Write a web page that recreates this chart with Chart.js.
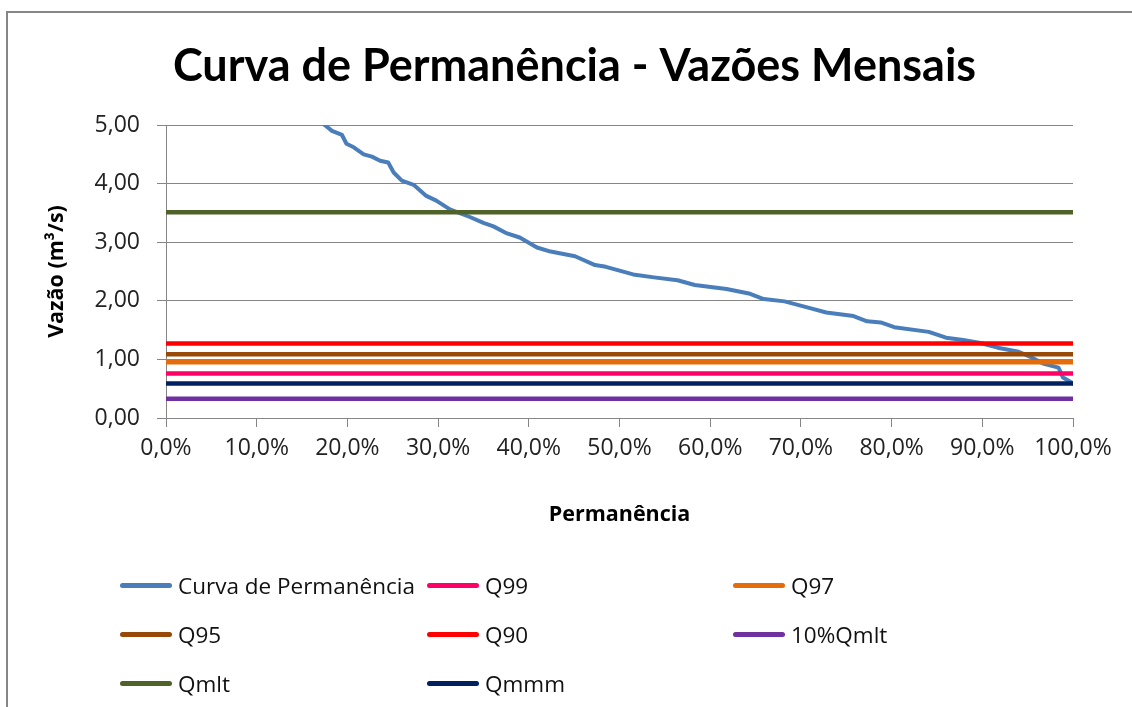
<!DOCTYPE html>
<html>
<head>
<meta charset="utf-8">
<script src="https://cdn.jsdelivr.net/npm/chart.js@4/dist/chart.umd.min.js"></script>
<style>
  body { margin: 0; background: #fff; overflow: hidden; width: 1132px; height: 707px; position: relative; }
  #frame { position: absolute; left: 6px; top: 11px; width: 1200px; height: 800px;
           border-left: 2px solid #868686; border-top: 2px solid #868686; }
  #grafico { position: absolute; left: 0; top: 0; }
  #legenda { position: absolute; left: 120px; top: 561px; display: grid;
             grid-template-columns: 307px 306px 300px; grid-auto-rows: 49px;
             font-family: "Open Sans", sans-serif; font-size: 22.5px; color: #111; }
  #legenda .item { display: flex; align-items: center; white-space: nowrap; }
  #legenda .linha { display: inline-block; width: 52px; height: 5px; border-radius: 3px; margin-right: 6px; }
</style>
</head>
<body>
<div id="frame"></div>
<canvas id="grafico" width="1149" height="707"></canvas>
<div id="legenda"></div>
<script>
// curva de permanencia (x em %, vazao em m3/s) - os primeiros pontos ficam acima de 5,00
const permanencia = [0, 5, 10, 15, 17.5, 18.3, 19.4, 19.9, 20.7, 21.8, 22.7, 23.6, 24.5, 25.1, 26.0, 27.3,
  28.7, 29.8, 31.3, 33.5, 35.0, 36.1, 37.6, 39.0, 40.9, 42.4, 45.1, 47.3, 48.5, 51.5, 53.8, 56.4, 58.3,
  61.8, 64.4, 65.9, 68.2, 70.9, 72.8, 75.8, 77.3, 78.8, 80.3, 84.1, 86.0, 87.9, 89.8, 91.7, 94.0, 95.5,
  96.7, 98.4, 98.9, 100];
const vazao = [12.0, 8.0, 6.4, 5.4, 5.00, 4.90, 4.83, 4.68, 4.62, 4.50, 4.46, 4.39, 4.36, 4.19, 4.05, 3.98,
  3.79, 3.71, 3.56, 3.43, 3.33, 3.27, 3.15, 3.08, 2.91, 2.84, 2.76, 2.61, 2.58, 2.45, 2.40, 2.35, 2.27,
  2.20, 2.12, 2.03, 1.99, 1.88, 1.80, 1.74, 1.65, 1.63, 1.55, 1.47, 1.37, 1.33, 1.28, 1.20, 1.13, 1.03,
  0.93, 0.86, 0.69, 0.59];

// vazoes de referencia
const referencias = ['Q99', 'Q97', 'Q95', 'Q90', '10%Qmlt', 'Qmlt', 'Qmmm'];
const valoresReferencia = [0.76, 0.95, 1.09, 1.27, 0.33, 3.51, 0.59];
const limitesX = [0, 100];

const cores = {
  'Curva de Permanência': '#4a7ebb',
  'Q99': '#ff0066',
  'Q97': '#e46c0a',
  'Q95': '#984807',
  'Q90': '#ff0000',
  '10%Qmlt': '#7030a0',
  'Qmlt': '#4f6228',
  'Qmmm': '#002060'
};

let datasets = [];
datasets.push({
  label: 'Curva de Permanência',
  data: permanencia.map((p, i) => ({ x: p, y: vazao[i] })),
  borderColor: cores['Curva de Permanência'],
  borderWidth: 4,
  order: 1
});
referencias.forEach((nome, i) => {
  datasets.push({
    label: nome,
    data: limitesX.map(x => ({ x: x, y: valoresReferencia[i] })),
    borderColor: cores[nome],
    borderWidth: 4.5,
    order: 0
  });
});

const fonte = "'Open Sans', sans-serif";
const cinza = '#868686';

const ctx = document.getElementById('grafico');
const grafico = new Chart(ctx, {
  type: 'line',
  data: { datasets: datasets },
  options: {
    responsive: false,
    animation: false,
    devicePixelRatio: 1,
    layout: { padding: { left: 40, right: 40, top: 0, bottom: 175 } },
    elements: {
      point: { radius: 0 },
      line: { tension: 0, borderCapStyle: 'round', borderJoinStyle: 'round' }
    },
    plugins: {
      legend: { display: false },
      tooltip: { enabled: false },
      title: {
        display: true,
        text: 'Curva de Permanência - Vazões Mensais',
        color: '#000',
        font: { family: "Lato, sans-serif", size: 45, weight: 'bold' },
        padding: { top: 39, bottom: 32 }
      }
    },
    scales: {
      x: {
        type: 'linear',
        min: 0,
        max: 100,
        ticks: {
          stepSize: 10,
          color: '#222',
          padding: 8,
          font: { family: fonte, size: 23 },
          callback: v => v.toFixed(1).replace('.', ',') + '%'
        },
        grid: { drawOnChartArea: false, drawTicks: true, tickLength: 9, color: cinza },
        border: { color: cinza },
        title: {
          display: true,
          text: 'Permanência',
          color: '#000',
          font: { family: fonte, size: 21.5, weight: 'bold' },
          padding: { top: 4, bottom: 4 }
        },
        afterFit: s => { s.height = 114; }
      },
      y: {
        min: 0,
        max: 5,
        ticks: {
          stepSize: 1,
          color: '#222',
          padding: 17,
          font: { family: fonte, size: 23 },
          callback: v => v.toFixed(2).replace('.', ',')
        },
        grid: { color: cinza, tickLength: 9 },
        border: { color: cinza },
        title: {
          display: true,
          text: 'Vazão (m³/s)',
          color: '#000',
          font: { family: fonte, size: 21.5, weight: 'bold' },
          padding: { top: 4, bottom: 4 }
        },
        afterFit: s => { s.width = 126; }
      },
      // eixo vazio a direita, so para reservar a margem do original
      margemDireita: {
        position: 'right',
        min: 0,
        max: 5,
        grid: { display: false },
        ticks: { display: false },
        border: { display: false },
        afterFit: s => { s.width = 36; }
      }
    }
  }
});

// legenda em grade de 3 colunas, como no original
const ordemLegenda = ['Curva de Permanência'].concat(referencias);
const legenda = document.getElementById('legenda');
ordemLegenda.forEach(nome => {
  let item = document.createElement('div');
  item.classList.add('item');
  let linha = document.createElement('span');
  linha.classList.add('linha');
  linha.style.background = cores[nome];
  item.appendChild(linha);
  let texto = document.createElement('span');
  texto.innerText = nome;
  item.appendChild(texto);
  legenda.appendChild(item);
});
</script>
</body>
</html>
